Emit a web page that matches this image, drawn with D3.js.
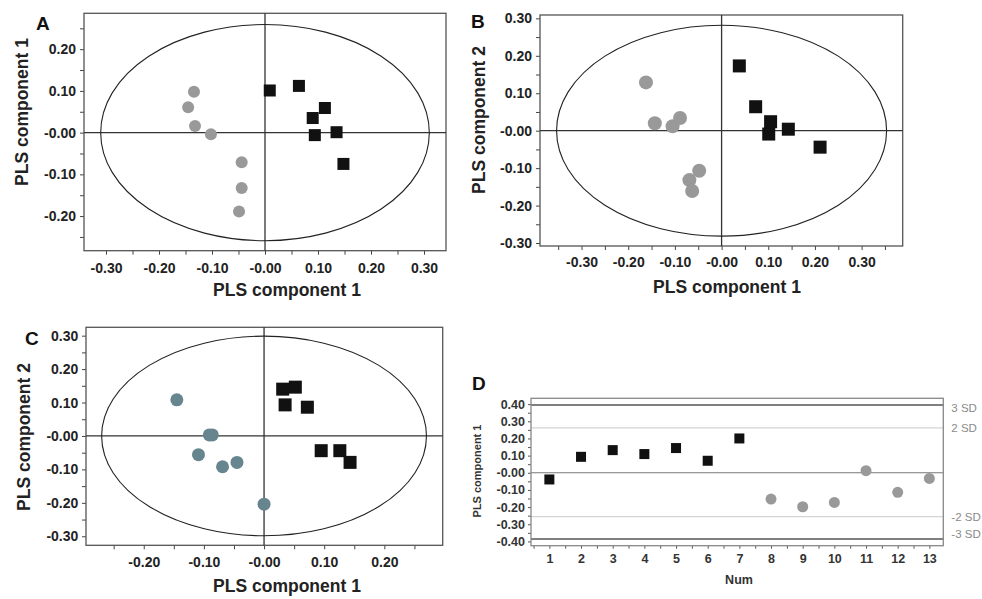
<!DOCTYPE html>
<html>
<head>
<meta charset="utf-8">
<script src="https://cdn.jsdelivr.net/npm/d3@7"></script>
<style>
  body { margin: 0; background: #fff; }
  svg { font-family: "Liberation Sans", Arial, sans-serif; }
</style>
</head>
<body>
<div id="my_dataviz"></div>
<script>

// ---- data ----
// panel A: PLS component 1 vs PLS component 1
var aCircleX = [-0.134, -0.145, -0.132, -0.102, -0.044, -0.044, -0.049];
var aCircleY = [0.098, 0.061, 0.016, -0.004, -0.071, -0.133, -0.189];
var aSquareX = [0.009, 0.064, 0.113, 0.090, 0.094, 0.135, 0.148];
var aSquareY = [0.101, 0.112, 0.059, 0.035, -0.006, 0.001, -0.075];

// panel B
var bCircleX = [-0.162, -0.143, -0.105, -0.089, -0.069, -0.063, -0.048];
var bCircleY = [0.129, 0.020, 0.012, 0.034, -0.132, -0.161, -0.107];
var bSquareX = [0.038, 0.073, 0.105, 0.101, 0.143, 0.211];
var bSquareY = [0.173, 0.064, 0.024, -0.009, 0.004, -0.044];

// panel C
var cCircleX = [-0.145, -0.091, -0.086, -0.109, -0.069, -0.045, 0.000];
var cCircleY = [0.108, 0.003, 0.003, -0.056, -0.092, -0.079, -0.204];
var cSquareX = [0.031, 0.052, 0.035, 0.072, 0.095, 0.126, 0.143];
var cSquareY = [0.140, 0.146, 0.093, 0.086, -0.044, -0.044, -0.079];

// panel D: scores per sample number
var dNum = [1, 2, 3, 4, 5, 6, 7, 8, 9, 10, 11, 12, 13];
var dScore = [-0.039, 0.093, 0.132, 0.109, 0.144, 0.070, 0.200,
              -0.153, -0.198, -0.173, 0.012, -0.114, -0.033];
var dGroup = ["sq", "sq", "sq", "sq", "sq", "sq", "sq",
              "ci", "ci", "ci", "ci", "ci", "ci"];
var dSdLabels = ["3 SD", "2 SD", "-2 SD", "-3 SD"];
var dSdValues = [0.395, 0.262, -0.256, -0.386];

// tick labels
var ticksA_x = ["-0.30", "-0.20", "-0.10", "-0.00", "0.10", "0.20", "0.30"];
var ticksA_y = ["-0.20", "-0.10", "-0.00", "0.10", "0.20"];
var ticksB_x = ["-0.30", "-0.20", "-0.10", "-0.00", "0.10", "0.20", "0.30"];
var ticksB_y = ["-0.30", "-0.20", "-0.10", "-0.00", "0.10", "0.20", "0.30"];
var ticksC_x = ["-0.20", "-0.10", "-0.00", "0.10", "0.20"];
var ticksC_y = ["-0.30", "-0.20", "-0.10", "-0.00", "0.10", "0.20", "0.30"];
var ticksD_y = ["-0.40", "-0.30", "-0.20", "-0.10", "-0.00", "0.10", "0.20", "0.30", "0.40"];

// ellipse radii (Hotelling T2), data units
var ellipseA = [0.310, 0.259];
var ellipseB = [0.3535, 0.2816];
var ellipseC = [0.270, 0.2985];

var svg = d3.select("#my_dataviz")
  .append("svg")
    .attr("width", 982)
    .attr("height", 599);

function zip(xs, ys) {
  return xs.map(function(d, i) { return {x: d, y: ys[i]}; });
}

// ticks every 0.05 inside the domain, labelled every 0.1
function stepTicks(dom, step) {
  var out = [];
  for (var v = Math.ceil(dom[0] / step - 1e-6) * step; v <= dom[1] + 1e-9; v += step) {
    out.push(Math.round(v * 1000) / 1000);
  }
  return out;
}

function labelFor(labels) {
  var m = {};
  labels.forEach(function(l) { m[Math.round(+l * 1000)] = l; });
  return function(d) {
    var k = Math.round(d * 1000);
    return m[k] !== undefined ? m[k] : "";
  };
}

function scatterPanel(p) {
  var g = svg.append("g");
  var x = d3.scaleLinear().domain(p.xDom).range([p.left, p.right]);
  var y = d3.scaleLinear().domain(p.yDom).range([p.bottom, p.top]);

  var xAxis = d3.axisBottom(x)
    .tickValues(stepTicks(p.xDom, 0.05))
    .tickFormat(labelFor(p.xLabels))
    .tickSize(4).tickPadding(p.xPad);
  var yAxis = d3.axisLeft(y)
    .tickValues(stepTicks(p.yDom, 0.05))
    .tickFormat(labelFor(p.yLabels))
    .tickSize(4).tickPadding(p.yPad);

  var gx = g.append("g")
    .attr("transform", "translate(0," + p.bottom + ")")
    .call(xAxis);
  var gy = g.append("g")
    .attr("transform", "translate(" + p.left + ",0)")
    .call(yAxis);
  [gx, gy].forEach(function(a) {
    a.select(".domain").remove();
    a.selectAll("line").attr("stroke", "#444");
    a.selectAll("text")
      .attr("font-size", 14)
      .attr("font-weight", "bold")
      .attr("fill", "#222")
      .attr("font-family", "Liberation Sans, Arial, sans-serif");
  });

  g.append("rect")
    .attr("x", p.left).attr("y", p.top)
    .attr("width", p.right - p.left).attr("height", p.bottom - p.top)
    .attr("fill", "none").attr("stroke", "#555").attr("stroke-width", 1.3);

  // cross hair
  g.append("line")
    .attr("x1", x(0)).attr("x2", x(0)).attr("y1", p.top).attr("y2", p.bottom)
    .attr("stroke", "#333").attr("stroke-width", 1.3);
  g.append("line")
    .attr("x1", p.left).attr("x2", p.right).attr("y1", y(0)).attr("y2", y(0))
    .attr("stroke", "#333").attr("stroke-width", 1.3);

  g.append("ellipse")
    .attr("cx", x(0)).attr("cy", y(0))
    .attr("rx", x(p.ellipse[0]) - x(0))
    .attr("ry", y(0) - y(p.ellipse[1]))
    .attr("fill", "none").attr("stroke", "#222").attr("stroke-width", 1.1);

  g.selectAll(".circ")
    .data(p.circles)
    .enter().append("circle")
      .attr("cx", function(d) { return x(d.x); })
      .attr("cy", function(d) { return y(d.y); })
      .attr("r", p.r)
      .attr("fill", p.circleColor);

  g.selectAll(".sq")
    .data(p.squares)
    .enter().append("rect")
      .attr("x", function(d) { return x(d.x) - p.sq / 2; })
      .attr("y", function(d) { return y(d.y) - p.sq / 2; })
      .attr("width", p.sq).attr("height", p.sq)
      .attr("fill", "#111");

  g.append("text")
    .attr("x", p.xTitle[0]).attr("y", p.xTitle[1])
    .attr("text-anchor", "middle")
    .attr("font-size", 17.5).attr("font-weight", "bold").attr("fill", "#222")
    .text(p.xTitleText);
  g.append("text")
    .attr("transform", "translate(" + p.yTitle[0] + "," + p.yTitle[1] + ") rotate(-90)")
    .attr("text-anchor", "middle")
    .attr("font-size", 17.5).attr("font-weight", "bold").attr("fill", "#222")
    .text(p.yTitleText);
  g.append("text")
    .attr("x", p.letter[0]).attr("y", p.letter[1])
    .attr("font-size", 19).attr("font-weight", "bold").attr("fill", "#111")
    .text(p.letterText);
}

scatterPanel({
  left: 84, right: 446, top: 13.3, bottom: 250.7,
  xDom: [-0.3415, 0.3415], yDom: [-0.283, 0.286],
  xLabels: ticksA_x, yLabels: ticksA_y, xPad: 8, yPad: 4,
  ellipse: ellipseA,
  circles: zip(aCircleX, aCircleY), squares: zip(aSquareX, aSquareY),
  r: 6, sq: 12, circleColor: "#999",
  xTitle: [287, 296], yTitle: [28, 112],
  xTitleText: "PLS component 1", yTitleText: "PLS component 1",
  letter: [36, 30], letterText: "A"
});

scatterPanel({
  left: 540, right: 902.7, top: 15, bottom: 246,
  xDom: [-0.389, 0.388], yDom: [-0.308, 0.309],
  xLabels: ticksB_x, yLabels: ticksB_y, xPad: 7, yPad: 4,
  ellipse: ellipseB,
  circles: zip(bCircleX, bCircleY), squares: zip(bSquareX, bSquareY),
  r: 7, sq: 13, circleColor: "#999",
  xTitle: [727, 293], yTitle: [485, 120],
  xTitleText: "PLS component 1", yTitleText: "PLS component 2",
  letter: [471, 28], letterText: "B"
});

scatterPanel({
  left: 86, right: 442.7, top: 327.3, bottom: 545.3,
  xDom: [-0.296, 0.297], yDom: [-0.327, 0.325],
  xLabels: ticksC_x, yLabels: ticksC_y, xPad: 7.5, yPad: 3.7,
  ellipse: ellipseC,
  circles: zip(cCircleX, cCircleY), squares: zip(cSquareX, cSquareY),
  r: 6.5, sq: 13, circleColor: "#67858f",
  xTitle: [287, 592], yTitle: [30, 437],
  xTitleText: "PLS component 1", yTitleText: "PLS component 2",
  letter: [25, 345], letterText: "C"
});

// ---- panel D ----
(function() {
  var left = 531, right = 943.3, top = 398.3, bottom = 545.7;
  var g = svg.append("g");
  var x = d3.scaleLinear().domain([0.42, 13.44]).range([left, right]);
  var y = d3.scaleLinear().domain([-0.425, 0.434]).range([bottom, top]);

  var gx = g.append("g")
    .attr("transform", "translate(0," + bottom + ")")
    .call(d3.axisBottom(x)
      .tickValues(d3.range(0.5, 13.5, 0.5))
      .tickFormat(function(d) { return d % 1 === 0 ? d : ""; })
      .tickSize(3).tickPadding(5.5));
  var gy = g.append("g")
    .attr("transform", "translate(" + left + ",0)")
    .call(d3.axisLeft(y)
      .tickValues(stepTicks([-0.425, 0.434], 0.05))
      .tickFormat(labelFor(ticksD_y))
      .tickSize(3).tickPadding(3));
  [gx, gy].forEach(function(a) {
    a.select(".domain").remove();
    a.selectAll("line").attr("stroke", "#555");
    a.selectAll("text")
      .attr("font-size", 12.5)
      .attr("font-weight", "bold")
      .attr("fill", "#333")
      .attr("font-family", "Liberation Sans, Arial, sans-serif");
  });

  // SD limit lines
  g.selectAll(".sd")
    .data(dSdValues)
    .enter().append("line")
      .attr("x1", left).attr("x2", right)
      .attr("y1", function(d) { return y(d); })
      .attr("y2", function(d) { return y(d); })
      .attr("stroke", function(d, i) { return (i === 0 || i === 3) ? "#555" : "#d4d4d4"; })
      .attr("stroke-width", function(d, i) { return (i === 0 || i === 3) ? 1.6 : 1.2; });
  g.selectAll(".sdl")
    .data(dSdValues)
    .enter().append("text")
      .attr("x", right + 8)
      .attr("y", function(d) { return y(d); })
      .attr("dy", function(d, i) { return i === 0 ? "0.6em" : (i === 3 ? "-0.1em" : "0.35em"); })
      .attr("font-size", 11.5).attr("fill", "#8a8a8a")
      .text(function(d, i) { return dSdLabels[i]; });

  g.append("line")
    .attr("x1", left).attr("x2", right).attr("y1", y(0)).attr("y2", y(0))
    .attr("stroke", "#777").attr("stroke-width", 1.2);

  g.append("rect")
    .attr("x", left).attr("y", top)
    .attr("width", right - left).attr("height", bottom - top)
    .attr("fill", "none").attr("stroke", "#888").attr("stroke-width", 1.3);

  var pts = dNum.map(function(n, i) { return {n: n, v: dScore[i], g: dGroup[i]}; });
  g.selectAll(".dsq")
    .data(pts.filter(function(d) { return d.g === "sq"; }))
    .enter().append("rect")
      .attr("x", function(d) { return x(d.n) - 5; })
      .attr("y", function(d) { return y(d.v) - 5; })
      .attr("width", 10).attr("height", 10)
      .attr("fill", "#111");
  g.selectAll(".dci")
    .data(pts.filter(function(d) { return d.g === "ci"; }))
    .enter().append("circle")
      .attr("cx", function(d) { return x(d.n); })
      .attr("cy", function(d) { return y(d.v); })
      .attr("r", 5.5)
      .attr("fill", "#999");

  g.append("text")
    .attr("x", 739).attr("y", 584)
    .attr("text-anchor", "middle")
    .attr("font-size", 12.5).attr("font-weight", "bold").attr("fill", "#333")
    .text("Num");
  g.append("text")
    .attr("transform", "translate(481,471) rotate(-90)")
    .attr("text-anchor", "middle")
    .attr("font-size", 11).attr("font-weight", "bold").attr("fill", "#333")
    .text("PLS component 1");
  g.append("text")
    .attr("x", 472).attr("y", 390)
    .attr("font-size", 19).attr("font-weight", "bold").attr("fill", "#111")
    .text("D");
})();

</script>
</body>
</html>
